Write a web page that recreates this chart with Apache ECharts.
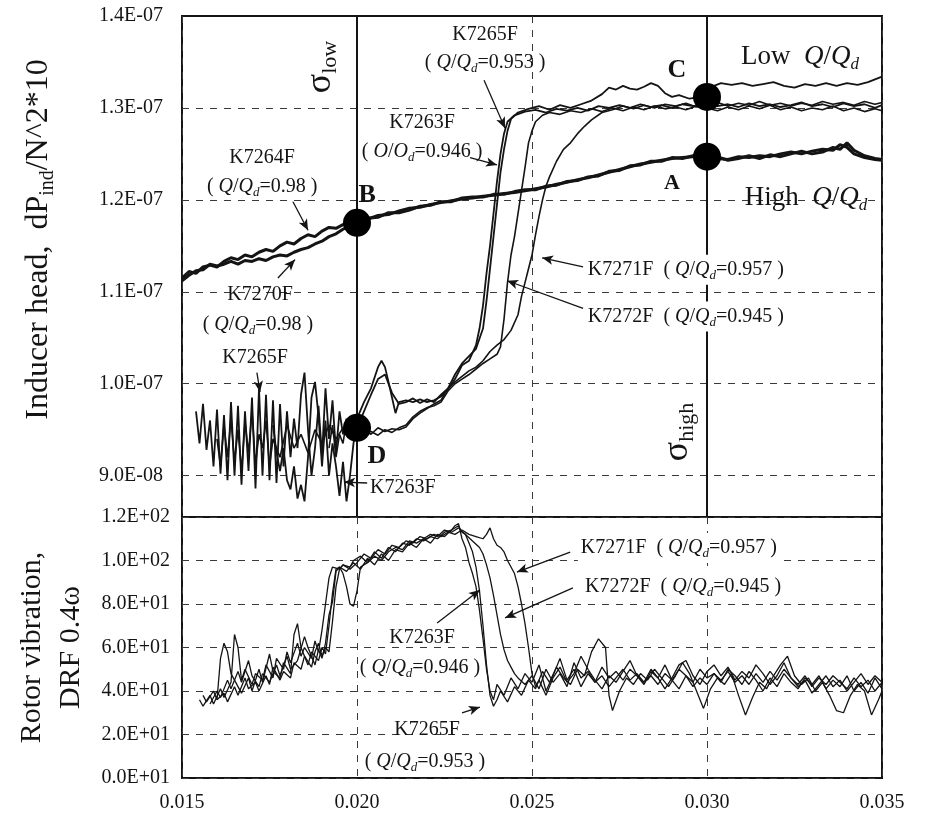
<!DOCTYPE html>
<html><head><meta charset="utf-8">
<script src="https://cdn.jsdelivr.net/npm/echarts@6/dist/echarts.min.js"></script>
<style>html,body{margin:0;padding:0;background:#fff;}#c{width:952px;height:818px;}</style>
</head><body><div id="c"></div>
<script>
// ---------- DATA ----------
// x = cavitation number sigma; inducer head values in units of 1e-8 (11.15 -> 1.115E-07)
const xTickLabels = ['0.015','0.020','0.025','0.030','0.035'];
const headTickValues = [9,10,11,12,13,14];
const headTickLabels = ['9.0E-08','1.0E-07','1.1E-07','1.2E-07','1.3E-07','1.4E-07'];
const vibTickLabels = ['0.0E+01','2.0E+01','4.0E+01','6.0E+01','8.0E+01','1.0E+02','1.2E+02'];

const headK7264F = [[0.0150,11.15],[0.0152,11.22],[0.0154,11.20],[0.0156,11.27],[0.0158,11.29],[0.0160,11.27],[0.0162,11.33],[0.0164,11.37],[0.0166,11.35],[0.0168,11.40],[0.0170,11.38],[0.0172,11.43],[0.0174,11.46],[0.0176,11.44],[0.0178,11.50],[0.0180,11.54],[0.0182,11.52],[0.0184,11.58],[0.0186,11.62],[0.0188,11.60],[0.0190,11.66],[0.0192,11.70],[0.0194,11.69],[0.0196,11.73],[0.0198,11.76],[0.0200,11.77],[0.0203,11.79],[0.0206,11.83],[0.0209,11.84],[0.0212,11.88],[0.0215,11.91],[0.0218,11.92],[0.0221,11.95],[0.0224,11.97],[0.0227,11.99],[0.0230,12.01],[0.0233,12.02],[0.0236,12.04],[0.0239,12.05],[0.0242,12.07],[0.0245,12.08],[0.0248,12.10],[0.0251,12.12],[0.0254,12.14],[0.0257,12.17],[0.0260,12.19],[0.0263,12.22],[0.0266,12.24],[0.0269,12.27],[0.0272,12.30],[0.0275,12.33],[0.0278,12.36],[0.0281,12.39],[0.0284,12.41],[0.0287,12.43],[0.0290,12.45],[0.0293,12.46],[0.0296,12.47],[0.0300,12.47],[0.0303,12.45],[0.0306,12.44],[0.0309,12.47],[0.0312,12.46],[0.0315,12.48],[0.0318,12.47],[0.0321,12.50],[0.0324,12.52],[0.0327,12.50],[0.0330,12.53],[0.0333,12.55],[0.0336,12.54],[0.0338,12.60],[0.0340,12.57],[0.0342,12.50],[0.0345,12.46],[0.0348,12.44],[0.0350,12.43]];
const headK7270F = [[0.0150,11.12],[0.0152,11.18],[0.0154,11.23],[0.0156,11.24],[0.0158,11.30],[0.0160,11.28],[0.0162,11.30],[0.0164,11.33],[0.0166,11.30],[0.0168,11.34],[0.0170,11.33],[0.0172,11.36],[0.0174,11.34],[0.0176,11.38],[0.0178,11.40],[0.0180,11.39],[0.0182,11.43],[0.0184,11.46],[0.0186,11.48],[0.0188,11.52],[0.0190,11.55],[0.0192,11.60],[0.0194,11.63],[0.0196,11.68],[0.0198,11.72],[0.0200,11.75],[0.0203,11.80],[0.0206,11.81],[0.0209,11.86],[0.0212,11.86],[0.0215,11.89],[0.0218,11.93],[0.0221,11.94],[0.0224,11.98],[0.0227,11.98],[0.0230,12.02],[0.0233,12.03],[0.0236,12.03],[0.0239,12.06],[0.0242,12.06],[0.0245,12.09],[0.0248,12.11],[0.0251,12.11],[0.0254,12.15],[0.0257,12.16],[0.0260,12.20],[0.0263,12.21],[0.0266,12.25],[0.0269,12.26],[0.0272,12.31],[0.0275,12.32],[0.0278,12.37],[0.0281,12.38],[0.0284,12.42],[0.0287,12.42],[0.0290,12.46],[0.0293,12.45],[0.0296,12.48],[0.0300,12.46],[0.0303,12.47],[0.0306,12.43],[0.0309,12.45],[0.0312,12.48],[0.0315,12.45],[0.0318,12.49],[0.0321,12.47],[0.0324,12.50],[0.0327,12.53],[0.0330,12.50],[0.0333,12.52],[0.0336,12.57],[0.0338,12.55],[0.0340,12.62],[0.0342,12.54],[0.0345,12.48],[0.0348,12.45],[0.0350,12.44]];
const headK7263F = [[0.0176,9.55],[0.0177,9.25],[0.0178,9.05],[0.0179,9.30],[0.0180,8.95],[0.0181,8.85],[0.0182,9.10],[0.0183,8.75],[0.0184,8.90],[0.0185,8.72],[0.0186,9.20],[0.0187,9.85],[0.0188,10.02],[0.0189,9.65],[0.0190,9.10],[0.0191,9.60],[0.0192,9.00],[0.0193,9.35],[0.0194,9.10],[0.0195,8.78],[0.0196,9.15],[0.0197,8.72],[0.0198,9.00],[0.0199,9.35],[0.0200,9.62],[0.0202,9.80],[0.0204,9.95],[0.0206,10.18],[0.0207,10.25],[0.0208,10.18],[0.0209,10.02],[0.0210,9.85],[0.0211,9.68],[0.0212,9.80],[0.0214,9.82],[0.0216,9.80],[0.0218,9.83],[0.0220,9.80],[0.0222,9.82],[0.0224,9.86],[0.0226,9.94],[0.0228,10.05],[0.0230,10.20],[0.0232,10.25],[0.0234,10.42],[0.0235,10.60],[0.0236,10.85],[0.0237,11.20],[0.0238,11.50],[0.0239,11.85],[0.0240,12.20],[0.0241,12.50],[0.0242,12.72],[0.0243,12.85],[0.0245,12.92],[0.0248,12.96],[0.0251,12.98],[0.0254,12.95],[0.0257,12.99],[0.0260,12.97],[0.0263,13.00],[0.0266,12.97],[0.0269,13.02],[0.0272,13.00],[0.0275,13.03],[0.0278,13.00],[0.0281,13.04],[0.0284,13.01],[0.0287,13.03],[0.0290,13.00],[0.0293,13.04],[0.0296,13.02],[0.0300,13.05],[0.0303,13.02],[0.0306,13.04],[0.0309,13.01],[0.0312,13.05],[0.0315,13.02],[0.0318,13.04],[0.0321,13.01],[0.0324,13.03],[0.0327,13.06],[0.0330,13.02],[0.0333,13.04],[0.0336,13.01],[0.0339,13.05],[0.0342,13.02],[0.0345,13.04],[0.0348,13.00],[0.0350,13.03]];
const headK7265F = [[0.0154,9.70],[0.0155,9.35],[0.0156,9.78],[0.0157,9.28],[0.0158,9.60],[0.0159,9.10],[0.0160,9.72],[0.0161,9.02],[0.0162,9.66],[0.0163,8.95],[0.0164,9.80],[0.0165,9.00],[0.0166,9.76],[0.0167,8.90],[0.0168,9.70],[0.0169,9.05],[0.0170,9.85],[0.0171,8.86],[0.0172,9.95],[0.0173,9.00],[0.0174,9.88],[0.0175,8.95],[0.0176,9.82],[0.0177,8.92],[0.0178,9.78],[0.0179,9.10],[0.0180,9.70],[0.0181,9.20],[0.0182,9.62],[0.0183,9.30],[0.0184,9.88],[0.0185,10.12],[0.0186,9.50],[0.0187,9.00],[0.0188,9.30],[0.0189,9.76],[0.0190,9.22],[0.0191,9.95],[0.0192,9.40],[0.0193,9.82],[0.0194,9.25],[0.0195,9.70],[0.0196,9.45],[0.0197,9.62],[0.0198,9.42],[0.0199,9.55],[0.0200,9.52],[0.0202,9.70],[0.0204,9.88],[0.0206,10.05],[0.0208,10.10],[0.0210,9.90],[0.0212,9.78],[0.0214,9.80],[0.0216,9.84],[0.0218,9.79],[0.0220,9.83],[0.0222,9.80],[0.0224,9.88],[0.0226,9.95],[0.0228,10.10],[0.0230,10.22],[0.0232,10.30],[0.0234,10.38],[0.0236,10.60],[0.0237,10.90],[0.0238,11.25],[0.0239,11.60],[0.0240,11.95],[0.0241,12.30],[0.0242,12.55],[0.0243,12.75],[0.0244,12.88],[0.0246,12.95],[0.0249,12.99],[0.0252,13.02],[0.0255,12.98],[0.0258,13.03],[0.0261,13.00],[0.0264,13.04],[0.0267,13.08],[0.0270,13.15],[0.0272,13.22],[0.0274,13.20],[0.0276,13.24],[0.0278,13.21],[0.0280,13.20],[0.0282,13.23],[0.0284,13.27],[0.0286,13.24],[0.0288,13.16],[0.0290,13.12],[0.0292,13.14],[0.0295,13.10],[0.0298,13.12],[0.0300,13.15],[0.0302,13.24],[0.0304,13.27],[0.0307,13.25],[0.0310,13.27],[0.0313,13.24],[0.0316,13.26],[0.0319,13.28],[0.0322,13.24],[0.0325,13.22],[0.0328,13.26],[0.0331,13.24],[0.0334,13.27],[0.0337,13.24],[0.0340,13.27],[0.0343,13.25],[0.0346,13.28],[0.0348,13.31],[0.0350,13.34]];
const headK7272F = [[0.0160,9.40],[0.0161,9.10],[0.0162,9.55],[0.0163,9.20],[0.0164,9.62],[0.0165,9.15],[0.0166,9.50],[0.0167,9.05],[0.0168,9.58],[0.0169,9.25],[0.0170,9.70],[0.0171,9.12],[0.0172,9.45],[0.0173,9.30],[0.0174,9.60],[0.0175,9.10],[0.0176,9.40],[0.0178,9.20],[0.0180,9.55],[0.0182,9.30],[0.0184,9.45],[0.0186,9.25],[0.0188,9.50],[0.0190,9.35],[0.0192,9.55],[0.0194,9.40],[0.0196,9.52],[0.0198,9.45],[0.0200,9.50],[0.0202,9.46],[0.0204,9.48],[0.0206,9.44],[0.0208,9.50],[0.0210,9.47],[0.0212,9.52],[0.0214,9.55],[0.0216,9.64],[0.0218,9.70],[0.0220,9.74],[0.0222,9.76],[0.0224,9.80],[0.0226,9.92],[0.0228,10.00],[0.0230,10.05],[0.0232,10.10],[0.0234,10.16],[0.0236,10.22],[0.0238,10.27],[0.0240,10.32],[0.0241,10.40],[0.0242,10.70],[0.0243,11.10],[0.0244,11.40],[0.0245,11.60],[0.0246,11.85],[0.0247,12.10],[0.0248,12.35],[0.0249,12.62],[0.0250,12.75],[0.0251,12.85],[0.0253,12.92],[0.0255,12.95],[0.0258,12.93],[0.0261,12.97],[0.0264,12.95],[0.0267,12.99],[0.0270,12.96],[0.0273,13.00],[0.0276,12.97],[0.0279,13.01],[0.0282,12.98],[0.0285,13.02],[0.0288,12.99],[0.0291,13.01],[0.0294,12.98],[0.0297,13.02],[0.0300,13.00],[0.0303,12.97],[0.0306,13.01],[0.0309,12.98],[0.0312,13.02],[0.0315,12.99],[0.0318,13.03],[0.0321,12.98],[0.0324,13.01],[0.0327,12.97],[0.0330,13.00],[0.0333,12.98],[0.0336,13.02],[0.0339,12.97],[0.0342,13.00],[0.0345,12.96],[0.0348,12.99],[0.0350,12.97]];
const headK7271F = [[0.0192,9.30],[0.0193,9.55],[0.0194,9.20],[0.0195,9.45],[0.0196,9.35],[0.0197,9.60],[0.0198,9.40],[0.0199,9.50],[0.0200,9.45],[0.0202,9.50],[0.0204,9.45],[0.0206,9.52],[0.0208,9.48],[0.0210,9.51],[0.0212,9.50],[0.0214,9.53],[0.0216,9.62],[0.0218,9.68],[0.0220,9.73],[0.0222,9.78],[0.0224,9.82],[0.0226,9.95],[0.0228,10.02],[0.0230,10.08],[0.0232,10.14],[0.0234,10.18],[0.0236,10.25],[0.0238,10.35],[0.0240,10.42],[0.0242,10.48],[0.0244,10.58],[0.0246,10.75],[0.0247,10.95],[0.0248,11.10],[0.0249,11.25],[0.0250,11.40],[0.0251,11.62],[0.0252,11.82],[0.0253,12.00],[0.0254,12.15],[0.0255,12.25],[0.0257,12.42],[0.0259,12.55],[0.0261,12.62],[0.0263,12.72],[0.0265,12.80],[0.0267,12.87],[0.0270,12.95],[0.0273,12.98],[0.0276,13.02],[0.0279,12.99],[0.0282,13.03],[0.0285,13.00],[0.0288,13.04],[0.0291,13.02],[0.0294,13.05],[0.0297,13.01],[0.0300,13.03],[0.0303,13.06],[0.0306,13.02],[0.0309,13.05],[0.0312,13.03],[0.0315,13.07],[0.0318,13.03],[0.0321,13.05],[0.0324,13.02],[0.0327,13.05],[0.0330,13.03],[0.0333,13.07],[0.0336,13.04],[0.0339,13.06],[0.0342,13.03],[0.0345,13.07],[0.0348,13.04],[0.0350,13.06]];

// operating points A, B, C, D (x, head in 1e-8)
const pointNames = ['A','B','C','D'];
const pointX = [0.030, 0.020, 0.030, 0.020];
const pointY = [12.47, 11.75, 13.12, 9.52];

// rotor vibration DRF 0.4 omega
const vibK7263F = [[0.0155,36],[0.0156,33],[0.0158,38],[0.0159,34],[0.0161,41],[0.0162,37],[0.0164,44],[0.0165,66],[0.0166,60],[0.0167,45],[0.0168,50],[0.0170,43],[0.0171,48],[0.0173,45],[0.0174,52],[0.0176,46],[0.0177,55],[0.0179,50],[0.0180,58],[0.0181,53],[0.0183,62],[0.0184,56],[0.0185,60],[0.0187,55],[0.0188,63],[0.0189,58],[0.0190,68],[0.0191,80],[0.0192,92],[0.0193,97],[0.0195,96],[0.0196,98],[0.0198,97],[0.0199,100],[0.0201,102],[0.0203,99],[0.0205,104],[0.0207,101],[0.0209,106],[0.0211,104],[0.0213,108],[0.0215,107],[0.0217,110],[0.0219,109],[0.0221,111],[0.0223,110],[0.0225,113],[0.0227,114],[0.0228,116],[0.0229,117],[0.0230,110],[0.0231,106],[0.0232,99],[0.0233,94],[0.0234,88],[0.0235,77],[0.0236,64],[0.0237,50],[0.0238,40],[0.0239,36],[0.0240,43],[0.0242,38],[0.0244,46],[0.0246,41],[0.0248,48],[0.0250,44],[0.0252,52],[0.0254,40],[0.0256,47],[0.0258,55],[0.0260,45],[0.0262,50],[0.0264,42],[0.0266,48],[0.0268,44],[0.0270,51],[0.0272,46],[0.0274,49],[0.0276,45],[0.0278,50],[0.0280,47],[0.0282,43],[0.0284,49],[0.0286,46],[0.0288,52],[0.0290,45],[0.0292,41],[0.0294,47],[0.0296,44],[0.0298,50],[0.0300,46],[0.0302,48],[0.0304,44],[0.0306,50],[0.0308,47],[0.0310,43],[0.0312,49],[0.0314,45],[0.0316,40],[0.0318,46],[0.0320,42],[0.0322,48],[0.0324,44],[0.0326,41],[0.0328,46],[0.0330,43],[0.0332,47],[0.0334,41],[0.0336,45],[0.0338,42],[0.0340,47],[0.0342,40],[0.0344,44],[0.0346,39],[0.0348,46],[0.0350,41]];
const vibK7265F = [[0.0156,38],[0.0157,35],[0.0159,40],[0.0160,36],[0.0161,55],[0.0162,62],[0.0163,58],[0.0164,48],[0.0166,42],[0.0167,39],[0.0169,46],[0.0170,40],[0.0172,50],[0.0173,44],[0.0175,57],[0.0176,49],[0.0178,46],[0.0179,53],[0.0181,48],[0.0182,66],[0.0183,71],[0.0184,60],[0.0186,52],[0.0187,58],[0.0189,54],[0.0190,60],[0.0191,57],[0.0192,70],[0.0193,85],[0.0194,96],[0.0195,97],[0.0197,95],[0.0199,99],[0.0201,96],[0.0203,101],[0.0205,98],[0.0207,103],[0.0209,100],[0.0211,105],[0.0213,104],[0.0215,108],[0.0217,106],[0.0219,110],[0.0221,108],[0.0223,112],[0.0225,111],[0.0227,114],[0.0229,116],[0.0230,113],[0.0231,112],[0.0232,108],[0.0233,104],[0.0234,97],[0.0235,86],[0.0236,70],[0.0237,52],[0.0238,38],[0.0239,33],[0.0240,36],[0.0241,40],[0.0243,35],[0.0245,42],[0.0247,38],[0.0249,45],[0.0251,41],[0.0253,49],[0.0255,44],[0.0257,51],[0.0259,46],[0.0261,43],[0.0263,50],[0.0265,47],[0.0267,58],[0.0269,64],[0.0271,60],[0.0272,38],[0.0273,31],[0.0275,40],[0.0277,46],[0.0279,43],[0.0281,48],[0.0283,45],[0.0285,50],[0.0287,46],[0.0289,42],[0.0291,47],[0.0293,53],[0.0295,48],[0.0297,40],[0.0299,32],[0.0301,41],[0.0303,46],[0.0305,43],[0.0307,48],[0.0309,38],[0.0311,29],[0.0313,37],[0.0315,44],[0.0317,41],[0.0319,47],[0.0321,52],[0.0323,56],[0.0325,47],[0.0327,43],[0.0329,46],[0.0331,40],[0.0333,44],[0.0335,38],[0.0337,31],[0.0339,30],[0.0341,38],[0.0343,43],[0.0345,40],[0.0347,29],[0.0349,36],[0.0350,40]];
const vibK7272F = [[0.0158,34],[0.0160,40],[0.0161,37],[0.0163,45],[0.0164,41],[0.0166,49],[0.0167,44],[0.0169,54],[0.0170,47],[0.0172,42],[0.0173,48],[0.0175,44],[0.0177,52],[0.0178,47],[0.0180,56],[0.0181,50],[0.0183,54],[0.0185,65],[0.0186,60],[0.0188,52],[0.0189,59],[0.0190,55],[0.0191,62],[0.0192,75],[0.0193,81],[0.0194,95],[0.0195,97],[0.0196,94],[0.0197,88],[0.0198,80],[0.0199,79],[0.0200,86],[0.0201,97],[0.0203,99],[0.0205,102],[0.0207,100],[0.0209,104],[0.0211,106],[0.0213,105],[0.0215,109],[0.0217,108],[0.0219,110],[0.0221,112],[0.0223,111],[0.0225,114],[0.0227,113],[0.0229,115],[0.0231,112],[0.0233,109],[0.0235,106],[0.0236,103],[0.0237,98],[0.0238,92],[0.0239,84],[0.0240,75],[0.0241,66],[0.0242,59],[0.0243,54],[0.0244,51],[0.0245,48],[0.0246,46],[0.0248,43],[0.0250,47],[0.0252,41],[0.0254,50],[0.0256,44],[0.0258,48],[0.0260,42],[0.0262,53],[0.0264,46],[0.0266,49],[0.0268,44],[0.0270,47],[0.0272,42],[0.0274,46],[0.0276,50],[0.0278,45],[0.0280,48],[0.0282,44],[0.0284,47],[0.0286,43],[0.0288,48],[0.0290,45],[0.0292,50],[0.0294,47],[0.0296,42],[0.0298,46],[0.0300,43],[0.0302,48],[0.0304,45],[0.0306,49],[0.0308,44],[0.0310,47],[0.0312,43],[0.0314,48],[0.0316,44],[0.0318,49],[0.0320,45],[0.0322,50],[0.0324,46],[0.0326,43],[0.0328,47],[0.0330,42],[0.0332,46],[0.0334,43],[0.0336,47],[0.0338,44],[0.0340,41],[0.0342,46],[0.0344,42],[0.0346,45],[0.0348,40],[0.0350,44]];
const vibK7271F = [[0.0160,36],[0.0162,39],[0.0163,35],[0.0165,42],[0.0166,38],[0.0168,46],[0.0169,41],[0.0171,44],[0.0172,40],[0.0174,47],[0.0175,43],[0.0176,51],[0.0178,45],[0.0179,49],[0.0181,46],[0.0182,53],[0.0184,50],[0.0185,56],[0.0187,51],[0.0188,58],[0.0189,62],[0.0190,56],[0.0191,60],[0.0192,58],[0.0193,72],[0.0194,88],[0.0195,96],[0.0196,98],[0.0198,96],[0.0200,99],[0.0202,103],[0.0204,101],[0.0206,105],[0.0208,103],[0.0210,107],[0.0212,106],[0.0214,109],[0.0216,108],[0.0218,111],[0.0220,110],[0.0222,112],[0.0224,111],[0.0226,113],[0.0228,112],[0.0230,114],[0.0232,112],[0.0234,111],[0.0236,110],[0.0237,112],[0.0238,115],[0.0239,110],[0.0240,107],[0.0241,106],[0.0242,104],[0.0243,100],[0.0244,97],[0.0245,94],[0.0246,88],[0.0247,80],[0.0248,71],[0.0249,60],[0.0250,48],[0.0251,42],[0.0252,45],[0.0254,38],[0.0256,46],[0.0258,51],[0.0260,44],[0.0262,48],[0.0264,56],[0.0266,50],[0.0268,45],[0.0270,41],[0.0272,47],[0.0274,44],[0.0276,49],[0.0278,54],[0.0280,47],[0.0282,44],[0.0284,50],[0.0286,46],[0.0288,41],[0.0290,46],[0.0292,52],[0.0294,54],[0.0296,47],[0.0298,43],[0.0300,49],[0.0302,52],[0.0304,47],[0.0306,51],[0.0308,45],[0.0310,49],[0.0312,46],[0.0314,52],[0.0316,48],[0.0318,43],[0.0320,47],[0.0322,53],[0.0324,46],[0.0326,42],[0.0328,45],[0.0330,39],[0.0332,43],[0.0334,47],[0.0336,42],[0.0338,45],[0.0340,40],[0.0342,44],[0.0344,48],[0.0346,43],[0.0348,47],[0.0350,44]];

// annotation placement (data coordinates of each panel)
const headNotes = [
  {t:'{sig|σ}{sub|low}', x:0.01897, y:13.445, kind:'sigma'},
  {t:'{sig|σ}{sub|high}', x:0.02917, y:9.475, kind:'sigma'},
  {t:'K7265F', x:0.02366, y:13.80},
  {t:'( {i|Q}/{i|Q}{d|d}=0.953 )', x:0.02366, y:13.49},
  {t:'C', x:0.02914, y:13.41, kind:'bold'},
  {t:'Low  {I|Q}/{I|Q}{D|d}', x:0.03266, y:13.55, kind:'big'},
  {t:'A', x:0.0290, y:12.18, kind:'boldS'},
  {t:'High  {I|Q}/{I|Q}{D|d}', x:0.03283, y:12.02, kind:'big'},
  {t:'B', x:0.02029, y:12.05, kind:'bold'},
  {t:'D', x:0.02057, y:9.21, kind:'bold'},
  {t:'K7263F', x:0.02186, y:12.84},
  {t:'( {i|O}/{i|O}{d|d}=0.946 )', x:0.02186, y:12.52},
  {t:'K7264F', x:0.01729, y:12.46},
  {t:'( {i|Q}/{i|Q}{d|d}=0.98 )', x:0.01729, y:12.14},
  {t:'K7270F', x:0.01723, y:10.97},
  {t:'( {i|Q}/{i|Q}{d|d}=0.98 )', x:0.01717, y:10.64},
  {t:'K7265F', x:0.01709, y:10.28},
  {t:'K7263F', x:0.02131, y:8.87},
  {t:'K7271F  ( {i|Q}/{i|Q}{d|d}=0.957 )', x:0.02651, y:11.24, align:'left', bg:true},
  {t:'K7272F  ( {i|Q}/{i|Q}{d|d}=0.945 )', x:0.02651, y:10.73, align:'left', bg:true}
];
const headArrows = [
  [[0.02363,13.30],[0.02423,12.78]],
  [[0.02323,12.46],[0.0240,12.38]],
  [[0.01817,11.98],[0.0186,11.67]],
  [[0.01774,11.15],[0.01823,11.35]],
  [[0.01714,10.12],[0.01723,9.91]],
  [[0.02029,8.92],[0.01963,8.93]],
  [[0.02646,11.27],[0.02529,11.37]],
  [[0.02646,10.82],[0.02429,11.12]]
];
const vibNotes = [
  {t:'K7271F  ( {i|Q}/{i|Q}{d|d}=0.957 )', x:0.02631, y:105.7, align:'left', bg:true},
  {t:'K7272F  ( {i|Q}/{i|Q}{d|d}=0.945 )', x:0.02643, y:87.8, align:'left', bg:true},
  {t:'K7263F', x:0.02186, y:64.4},
  {t:'( {i|Q}/{i|Q}{d|d}=0.946 )', x:0.02180, y:50.6},
  {t:'K7265F', x:0.0220, y:22.1},
  {t:'( {i|Q}/{i|Q}{d|d}=0.953 )', x:0.02194, y:7.4}
];
const vibArrows = [
  [[0.02609,103.9],[0.02457,94.7]],
  [[0.02617,87.4],[0.02423,73.6]],
  [[0.02229,71.3],[0.02351,86.4]],
  [[0.0230,29.9],[0.02351,32.6]]
];
const sigmaLines = [0.020, 0.030];

// ---------- CHART ----------
const FONT = "'Liberation Serif','DejaVu Serif',serif";
const INK = '#141414';
const dashed = {color:'#3a3a3a', width:1, type:[7,7]};

const chart = echarts.init(document.getElementById('c'), null, {renderer:'canvas'});

function xAxisDef(gridIndex, showLabels) {
  return {
    type:'value', gridIndex, min:0.015, max:0.035, interval:0.005,
    axisLine:{show:false}, axisTick:{show:false},
    splitLine:{show:true, lineStyle:dashed},
    axisLabel:{show:showLabels, margin:15, color:INK, fontFamily:FONT, fontSize:20,
      formatter:v => xTickLabels[Math.round((v-0.015)/0.005)] || ''}
  };
}

function line(name, data, xi, w) {
  return {name, type:'line', xAxisIndex:xi, yAxisIndex:xi, data, showSymbol:false,
    symbol:'none', lineStyle:{color:INK, width:w}, silent:true, animation:false, z:3};
}

const option = {
  backgroundColor:'#fff',
  animation:false,
  grid:[
    {left:182, top:16, width:700, height:501, show:true, borderColor:INK, borderWidth:2, backgroundColor:'transparent'},
    {left:182, top:517, width:700, height:261, show:true, borderColor:INK, borderWidth:2, backgroundColor:'transparent'}
  ],
  xAxis:[xAxisDef(0,false), xAxisDef(1,true)],
  yAxis:[
    {type:'value', gridIndex:0, min:8.55, max:14,
     axisLine:{show:false},
     axisTick:{show:false, customValues:[9,10,11,12,13]},
     splitLine:{show:true, lineStyle:dashed},
     axisLabel:{customValues:headTickValues, margin:19, color:INK, fontFamily:FONT, fontSize:20,
       formatter:v => { const i = headTickValues.indexOf(Math.round(v)); return (i>=0 && Math.abs(v-Math.round(v))<1e-6) ? headTickLabels[i] : ''; }},
     name:'Inducer head,  dP{sub|ind}/N^2*10', nameLocation:'middle', nameRotate:90, nameGap:124,
     nameTextStyle:{fontFamily:FONT, fontSize:32, color:INK, lineHeight:38, padding:[0,0,0,54],
       rich:{sub:{fontFamily:FONT, fontSize:20, color:INK, verticalAlign:'bottom', lineHeight:27}}}
    },
    {type:'value', gridIndex:1, min:0, max:120, interval:20,
     axisLine:{show:false}, axisTick:{show:false},
     splitLine:{show:true, lineStyle:dashed},
     axisLabel:{margin:12, color:INK, fontFamily:FONT, fontSize:20,
       formatter:v => vibTickLabels[Math.round(v/20)] || ''},
     name:'Rotor vibration,\nDRF 0.4ω', nameLocation:'middle', nameRotate:90, nameGap:85,
     nameTextStyle:{fontFamily:FONT, fontSize:30, color:INK, lineHeight:39, align:'center'}
    }
  ],
  series:[
    {type:'line', xAxisIndex:0, yAxisIndex:0, data:[], silent:true,
     markLine:{silent:true, animation:false, symbol:['none','none'], label:{show:false},
       lineStyle:{color:INK, width:2, type:'solid'},
       data: sigmaLines.map(v => ({xAxis:v}))}},
    {type:'line', xAxisIndex:0, yAxisIndex:0, data:[], silent:true,
     markLine:{silent:true, animation:false, symbol:['none','arrow'], symbolSize:[7,11], label:{show:false},
       lineStyle:{color:INK, width:1.3, type:'solid'},
       data: headArrows.map(a => [{coord:a[0]},{coord:a[1]}])}},
    {type:'line', xAxisIndex:1, yAxisIndex:1, data:[], silent:true,
     markLine:{silent:true, animation:false, symbol:['none','arrow'], symbolSize:[7,11], label:{show:false},
       lineStyle:{color:INK, width:1.3, type:'solid'},
       data: vibArrows.map(a => [{coord:a[0]},{coord:a[1]}])}},
    line('K7264F', headK7264F, 0, 3),
    line('K7270F', headK7270F, 0, 3),
    line('K7263F', headK7263F, 0, 1.8),
    line('K7265F', headK7265F, 0, 1.8),
    line('K7272F', headK7272F, 0, 1.6),
    line('K7271F', headK7271F, 0, 1.6),
    {type:'scatter', xAxisIndex:0, yAxisIndex:0, symbol:'circle', symbolSize:28, silent:true, z:5,
     itemStyle:{color:'#000', opacity:1}, data: pointX.map((x,i) => ({name:pointNames[i], value:[x, pointY[i]]}))},
    line('K7263F vib', vibK7263F, 1, 1.3),
    line('K7265F vib', vibK7265F, 1, 1.3),
    line('K7272F vib', vibK7272F, 1, 1.3),
    line('K7271F vib', vibK7271F, 1, 1.3)
  ]
};
chart.setOption(option);

const RICH = {
  i:{fontFamily:FONT, fontStyle:'italic', fontSize:20, lineHeight:24, fill:INK},
  d:{fontFamily:FONT, fontStyle:'italic', fontSize:13, lineHeight:14, verticalAlign:'bottom', fill:INK},
  I:{fontFamily:FONT, fontStyle:'italic', fontSize:27, lineHeight:32, fill:INK},
  D:{fontFamily:FONT, fontStyle:'italic', fontSize:17, lineHeight:18, verticalAlign:'bottom', fill:INK},
  sig:{fontFamily:FONT, fontSize:36, lineHeight:40, fill:INK},
  sub:{fontFamily:FONT, fontSize:22, lineHeight:26, verticalAlign:'bottom', fill:INK}
};
function noteEl(n, gridIndex) {
  const p = chart.convertToPixel({gridIndex}, [n.x, n.y]);
  const kind = n.kind || 'label';
  const style = {text:n.t, rich:RICH, fill:INK, fontFamily:FONT, fontSize:20, lineHeight:24,
    align:n.align || 'center', verticalAlign:'middle'};
  if (kind === 'big') { style.fontSize = 27; style.lineHeight = 32; }
  if (kind === 'bold') { style.fontSize = 26; style.fontWeight = 'bold'; style.lineHeight = 28; }
  if (kind === 'boldS') { style.fontSize = 22; style.fontWeight = 'bold'; style.lineHeight = 26; }
  if (kind === 'sigma') { style.fontSize = 36; style.lineHeight = 40; }
  if (n.bg) { style.backgroundColor = '#fff'; style.padding = [3,3]; }
  return {type:'text', x:p[0], y:p[1], rotation: kind === 'sigma' ? Math.PI/2 : 0, z:100, silent:true, style};
}
chart.setOption({graphic: [
  ...headNotes.map(n => noteEl(n, 0)),
  ...vibNotes.map(n => noteEl(n, 1))
]});
</script></body></html>
